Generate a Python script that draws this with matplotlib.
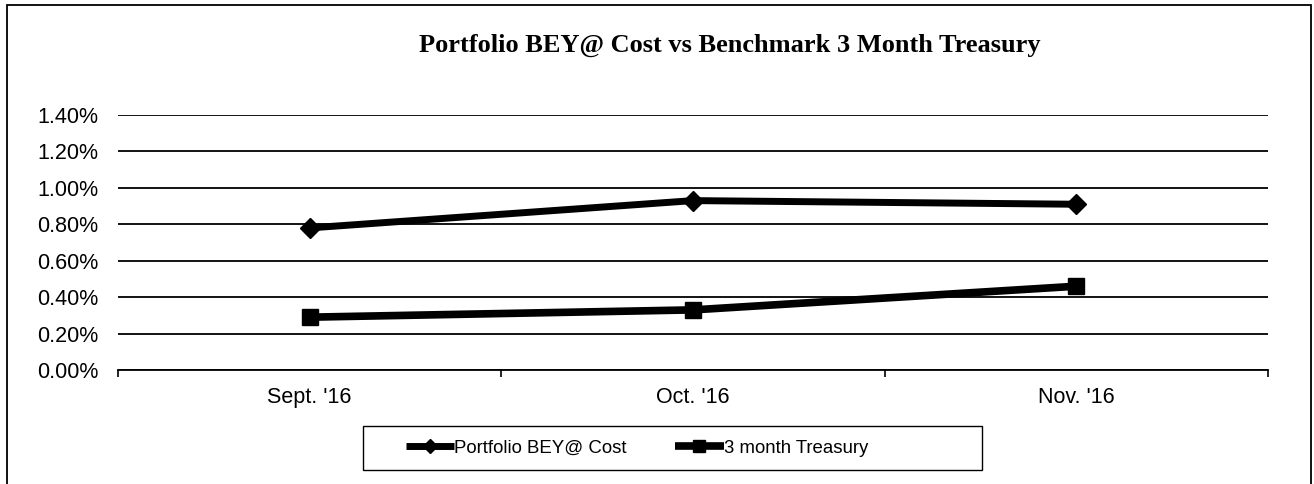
import matplotlib
matplotlib.use("Agg")
import matplotlib.pyplot as plt
from matplotlib.ticker import FuncFormatter
from matplotlib.patches import Rectangle

# Datos (en %)
months = ["Sept. '16", "Oct. '16", "Nov. '16"]
portfolio_bey = [0.78, 0.93, 0.91]
treasury_3m = [0.29, 0.33, 0.46]
y_ticks = [0.0, 0.2, 0.4, 0.6, 0.8, 1.0, 1.2, 1.4]

title = "Portfolio BEY@ Cost vs Benchmark 3 Month Treasury"
label_portfolio = "Portfolio BEY@ Cost"
label_treasury = "3 month Treasury"

W, H = 1314, 484
fig = plt.figure(figsize=(W / 100, H / 100), dpi=100)
ax = fig.add_axes([118 / W, (H - 370) / H, 1150 / W, 255 / H])

x = list(range(1, len(months) + 1))
ax.plot(x, portfolio_bey, color="black", lw=5, marker="D", ms=10,
        label=label_portfolio, solid_capstyle="butt")
ax.plot(x, treasury_3m, color="black", lw=5.5, marker="s", ms=11,
        label=label_treasury, solid_capstyle="butt")

ax.set_xlim(0.5, len(months) + 0.5)
ax.set_ylim(0, 1.4)
ax.set_yticks(y_ticks)
ax.yaxis.set_major_formatter(FuncFormatter(lambda v, _: f"{v:.2f}%"))
ax.set_xticks(x)
ax.set_xticklabels(months)
ax.set_xticks([i + 0.5 for i in range(len(months) + 1)], minor=True)
ax.tick_params(axis="x", which="major", length=0, pad=12, labelsize=15.5)
ax.tick_params(axis="x", which="minor", length=5, width=1.2, direction="out")
ax.tick_params(axis="y", length=0, pad=14, labelsize=15.5)
for lbl in ax.get_xticklabels() + ax.get_yticklabels():
    lbl.set_fontfamily("Liberation Sans")

ax.grid(axis="y", color="black", lw=1.3)
ax.set_axisbelow(True)
for s in ["top", "right", "left"]:
    ax.spines[s].set_visible(False)
ax.spines["bottom"].set_linewidth(1.3)

fig.text(730 / W, 1 - 45 / H, title, ha="center", va="center",
         fontsize=19, fontweight="bold", family="Liberation Serif")

# leyenda sin marco + caja aparte (la caja del original no está centrada)
leg = fig.legend(loc="center", bbox_to_anchor=(637 / W, 1 - 448 / H), ncol=2,
                 frameon=False, prop={"family": "Liberation Sans", "size": 13.4},
                 handlelength=2.6, handletextpad=0.0, columnspacing=2.6,
                 markerscale=0.75)
fig.add_artist(Rectangle((363 / W, 1 - 470 / H), 619 / W, 44 / H,
                         transform=fig.transFigure, fill=False,
                         edgecolor="black", lw=1.0))

# marco exterior
fig.add_artist(Rectangle((0.005, -0.05), 0.993, 1.04, transform=fig.transFigure,
                         fill=False, edgecolor="black", lw=1.3))

fig.savefig("out.png", dpi=100)
